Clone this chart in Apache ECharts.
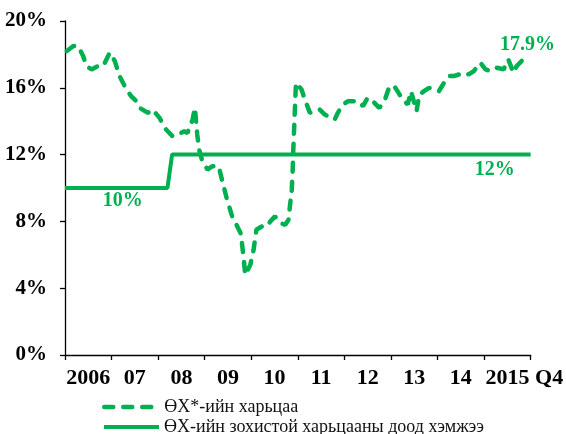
<!DOCTYPE html>
<html>
<head>
<meta charset="utf-8">
<script src="https://cdn.jsdelivr.net/npm/echarts@6/dist/echarts.min.js"></script>
<style>html,body{margin:0;padding:0;background:#fff;}#c{width:566px;height:434px;}</style>
</head>
<body>
<div id="c"></div>
<script>
// ---- data ----
var yearLabels = ['2006', '07', '08', '09', '10', '11', '12', '13', '14', '2015'];
var yTicks = [0, 4, 8, 12, 16, 20];

var carDates = [2006.04,2006.18,2006.28,2006.39,2006.46,2006.57,2006.71,2006.82,2006.96,2007.07,2007.17,2007.32,2007.42,2007.53,2007.60,2007.78,2007.88,2008.03,2008.17,2008.31,2008.42,2008.56,2008.63,2008.74,2008.79,2008.84,2008.88,2008.95,2009.06,2009.16,2009.30,2009.38,2009.48,2009.59,2009.70,2009.77,2009.80,2009.84,2009.87,2009.98,2010.05,2010.11,2010.23,2010.33,2010.41,2010.51,2010.62,2010.73,2010.80,2010.83,2010.87,2010.89,2010.90,2010.93,2010.96,2011.08,2011.15,2011.26,2011.37,2011.47,2011.58,2011.72,2011.79,2011.86,2011.97,2012.08,2012.29,2012.40,2012.50,2012.61,2012.75,2012.86,2012.97,2013.07,2013.14,2013.25,2013.36,2013.43,2013.50,2013.55,2013.61,2013.71,2013.82,2013.93,2014.03,2014.14,2014.25,2014.35,2014.46,2014.56,2014.67,2014.78,2014.92,2015.03,2015.13,2015.28,2015.42,2015.52,2015.63,2015.70,2015.84,2015.95];
var carValues = [18.2,18.5,18.5,17.9,17.3,17.1,17.3,17.3,18.1,17.6,16.7,15.9,15.5,15.2,14.8,14.5,14.7,14.2,13.5,13.1,13.2,13.4,13.3,14.1,14.8,13.2,12.3,11.6,11.1,11.3,11.3,10.4,9.3,8.3,7.7,7.3,6.7,5.7,4.8,5.4,6.3,7.5,7.7,7.7,8.0,8.3,7.9,7.8,8.1,8.9,9.9,11.1,12.1,14.2,16.3,15.9,15.3,14.5,14.6,14.7,14.4,14.2,14.1,14.5,15.0,15.2,15.2,14.9,15.4,15.2,14.8,15.2,16.1,16.1,15.8,15.3,15.0,15.8,15.1,14.6,15.6,15.8,16.0,15.9,15.8,16.3,16.7,16.7,16.8,16.9,16.8,17.0,17.5,17.1,17.0,17.2,17.1,17.7,16.9,17.3,17.7,17.9];

var minDates = [2006.0, 2008.2, 2008.3, 2016.0];
var minValues = [10, 10, 12, 12];

var carName = 'ӨХ*-ийн харьцаа';
var minName = 'ӨХ-ийн зохистой харьцааны доод хэмжээ';
var annotations = [
  {text: '10%', x: 2007.24, y: 9.25},
  {text: '12%', x: 2015.23, y: 11.1},
  {text: '17.9%', x: 2015.93, y: 18.6}
];

// ---- chart ----
var GREEN = '#00B050';
var SERIF = "'Liberation Serif','Times New Roman',serif";
function pairs(xs, ys) { return xs.map(function (x, i) { return [x, ys[i]]; }); }

var chart = echarts.init(document.getElementById('c'), null, {renderer: 'canvas'});
var legendBase = {
  left: 102, padding: 0, itemWidth: 55, itemHeight: 14, itemGap: 0,
  itemStyle: {opacity: 0},
  textStyle: {fontFamily: SERIF, fontSize: 18, color: '#111'}
};
chart.setOption({
  animation: false,
  backgroundColor: '#fff',
  grid: {left: 65, right: 32, top: 21, bottom: 79, containLabel: false},
  xAxis: [{
    type: 'category',
    data: yearLabels,
    boundaryGap: true,
    axisLine: {lineStyle: {color: '#000', width: 1.3}},
    axisTick: {show: true, length: 5, interval: 0, lineStyle: {color: '#000', width: 1.3}},
    axisLabel: {
      interval: 0, margin: 12, color: '#000', fontFamily: SERIF, fontWeight: 'bold', fontSize: 22,
      formatter: function (v, i) { return i === yearLabels.length - 1 ? '{p|}' + v + '{q| Q4}' : v; },
      rich: {p: {width: 34, fontFamily: SERIF, fontWeight: 'bold', fontSize: 22},
             q: {fontFamily: SERIF, fontWeight: 'bold', fontSize: 22, color: '#000'}}
    },
    splitLine: {show: false}
  }, {
    type: 'value', min: 2006, max: 2016, show: false
  }],
  yAxis: {
    type: 'value', min: yTicks[0], max: yTicks[yTicks.length - 1], interval: 4,
    axisLine: {show: true, lineStyle: {color: '#000', width: 1.3}},
    axisTick: {show: true, length: 5, lineStyle: {color: '#000', width: 1.3}},
    axisLabel: {margin: 18, color: '#000', fontFamily: SERIF, fontWeight: 'bold', fontSize: 21, formatter: '{value}%'},
    splitLine: {show: false}
  },
  legend: [
    Object.assign({}, legendBase, {data: [carName], top: 398, lineStyle: {width: 4.5}}),
    Object.assign({}, legendBase, {data: [minName], top: 418, lineStyle: {width: 4}})
  ],
  series: [{
    name: carName, type: 'line', xAxisIndex: 1, symbol: 'none',
    data: pairs(carDates, carValues),
    lineStyle: {color: GREEN, width: 4.5, type: [9, 10], cap: 'round'},
    itemStyle: {color: GREEN},
    markPoint: {
      symbol: 'rect', symbolSize: 1, itemStyle: {color: 'rgba(0,0,0,0)'},
      label: {show: true, position: 'inside', color: GREEN, fontFamily: SERIF, fontWeight: 'bold', fontSize: 20,
              formatter: function (p) { return p.name; }},
      data: annotations.map(function (a) { return {name: a.text, coord: [a.x, a.y]}; })
    },
    z: 3
  }, {
    name: minName, type: 'line', xAxisIndex: 1, symbol: 'none',
    data: pairs(minDates, minValues),
    lineStyle: {color: GREEN, width: 4, type: 'solid'},
    itemStyle: {color: GREEN},
    z: 2
  }]
});
</script>
</body>
</html>
